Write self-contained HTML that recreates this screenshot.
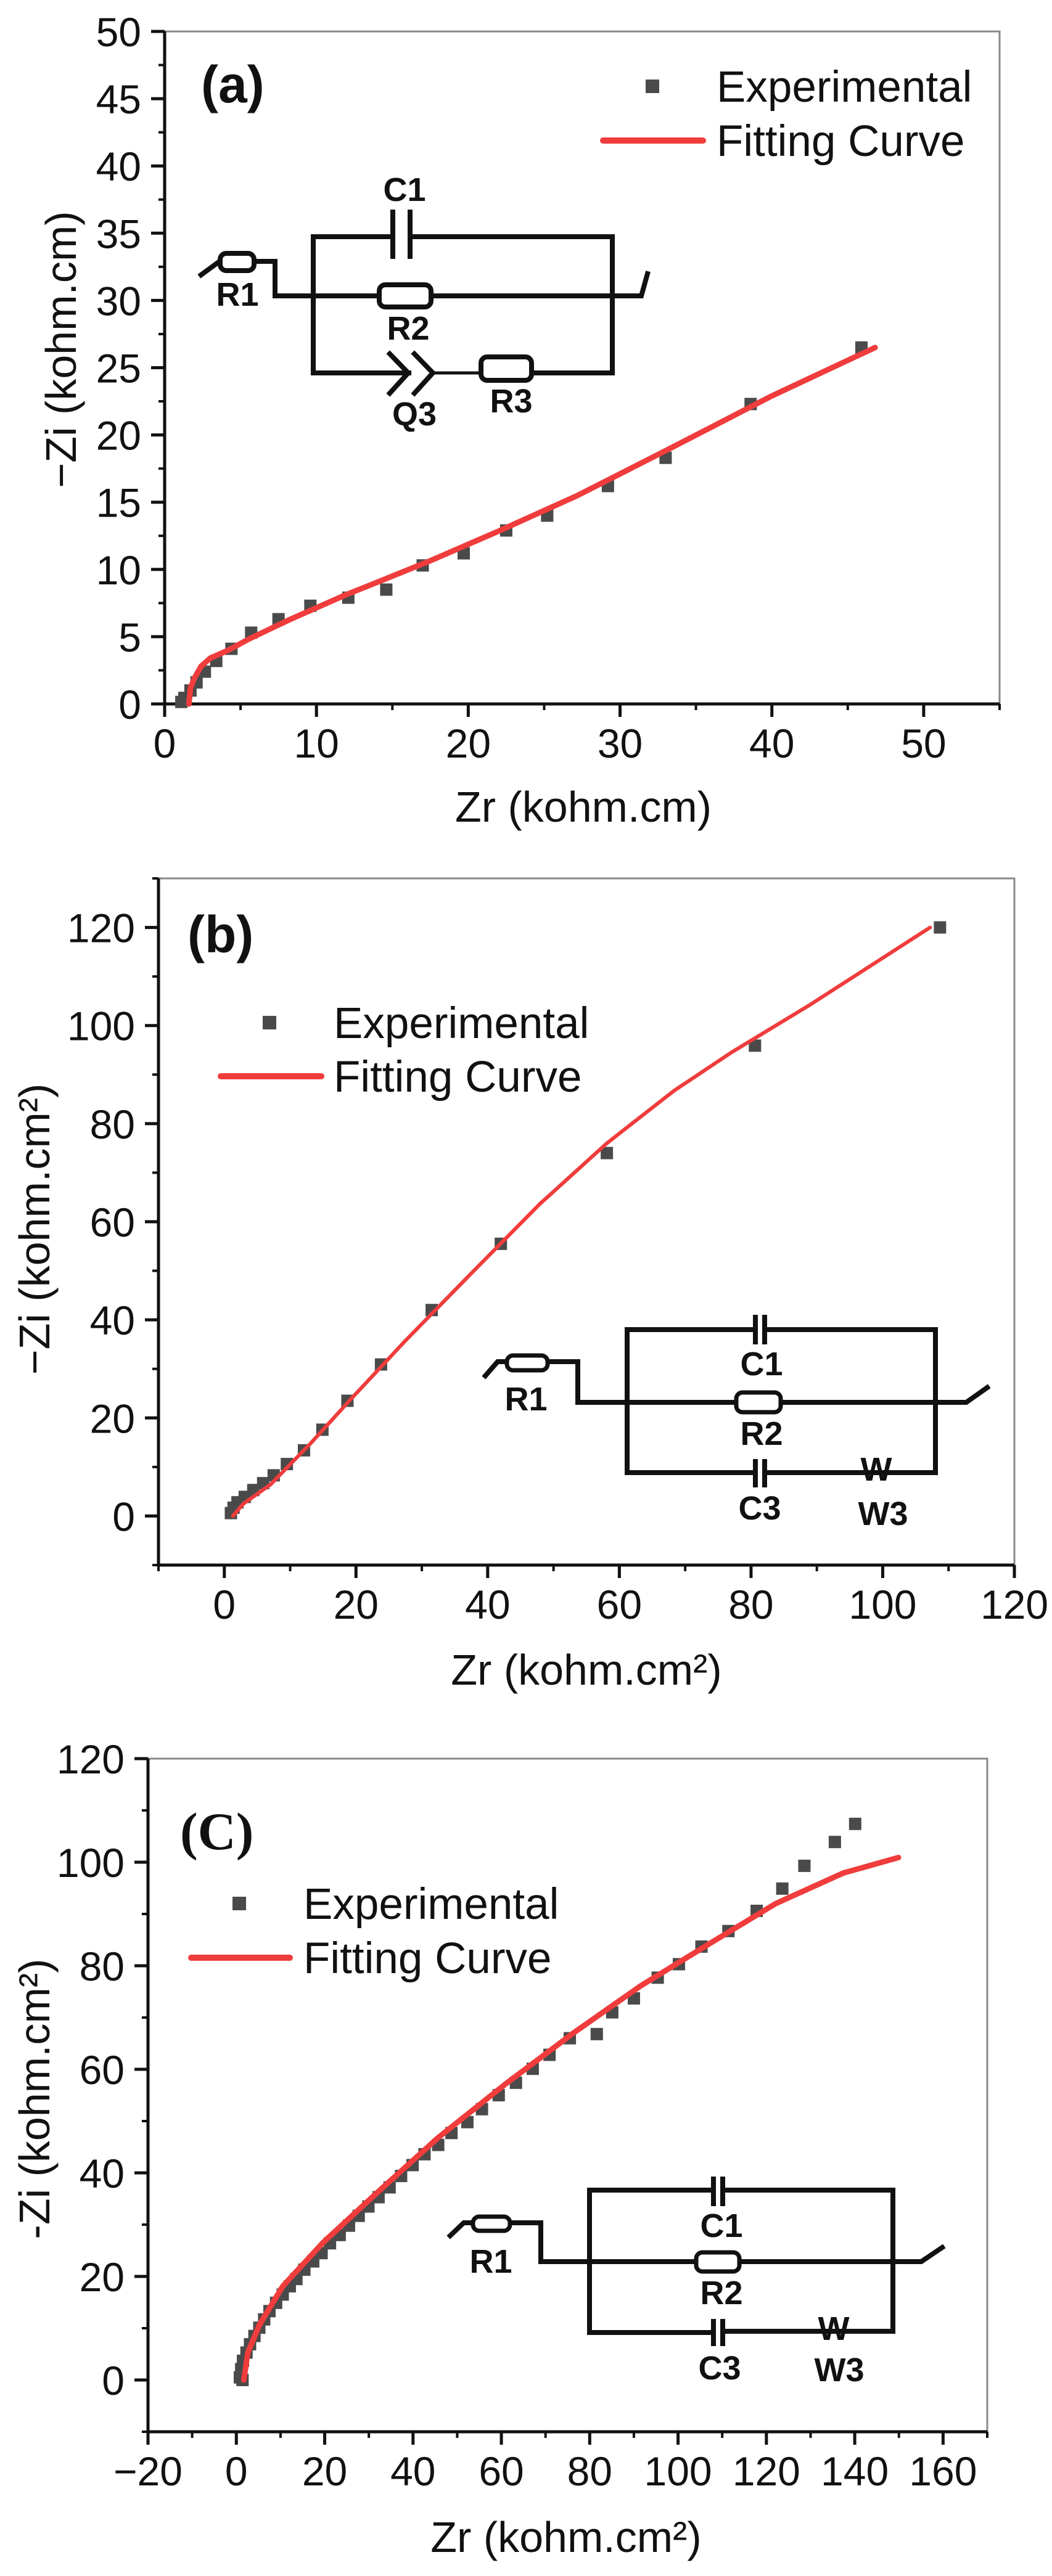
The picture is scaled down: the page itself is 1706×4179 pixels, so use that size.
<!DOCTYPE html>
<html><head><meta charset="utf-8"><style>
html,body{margin:0;padding:0;background:#fff;}
svg{display:block;font-family:"Liberation Sans",Arial,sans-serif;}
.tick{font-size:66px;fill:#111;}
.title{font-size:70px;fill:#111;}
.leg{font-size:71px;fill:#111;}
.cl{font-size:54px;font-weight:bold;fill:#111;}
.w{stroke:#111;stroke-width:8;fill:none;stroke-linecap:square;}
</style></head><body>
<svg id="fig" width="1706" height="4179" viewBox="0 0 1706 4179" xmlns="http://www.w3.org/2000/svg">
<rect width="1706" height="4179" fill="#fff"/>
<g id="pa"></g>
<g id="pb"></g>
<g id="pc"></g>

<!-- circuit a -->
<g>
<path class="w" d="M326 446 L356 424 M413 424 L446 424 L446 480 L615 480 M700 480 L1040 480 L1050 444"/>
<rect x="357" y="411" width="55" height="28" rx="10" fill="#fff" stroke="#111" stroke-width="8"/>
<rect x="615" y="462" width="84" height="36" rx="10" fill="#fff" stroke="#111" stroke-width="8"/>
<path class="w" d="M636 384 L508 384 L508 605 L663 605 M668 384 L993 384 L993 605 L862 605"/>
<path class="w" d="M637 344 V416 M665 344 V416"/>
<path class="w" d="M632 574 L662 605 L632 638 M672 574 L702 605 L672 638"/>
<path d="M702 605 L780 605" stroke="#111" stroke-width="5"/>
<rect x="780" y="579" width="82" height="38" rx="10" fill="#fff" stroke="#111" stroke-width="8"/>
<text class="cl" x="656" y="326" text-anchor="middle">C1</text>
<text class="cl" x="385" y="496" text-anchor="middle">R1</text>
<text class="cl" x="662" y="551" text-anchor="middle">R2</text>
<text class="cl" x="672" y="690" text-anchor="middle">Q3</text>
<text class="cl" x="829" y="669" text-anchor="middle">R3</text>
</g>

<!-- circuit b -->
<g>
<path class="w" d="M787 2232 L807 2209 L822 2209 M888 2209 L937 2209 L937 2275 L1194 2275 M1266 2275 L1567 2275 L1601 2251"/>
<rect x="822" y="2199" width="66" height="24" rx="10" fill="#fff" stroke="#111" stroke-width="7"/>
<rect x="1194" y="2259" width="72" height="32" rx="10" fill="#fff" stroke="#111" stroke-width="7"/>
<path class="w" d="M1224 2157 L1017 2157 L1017 2389 L1224 2389 M1241 2157 L1517 2157 L1517 2389 L1241 2389"/>
<path class="w" d="M1225 2137 V2177 M1240 2137 V2177 M1225 2371 V2409 M1240 2371 V2409"/>
<text class="cl" x="1235" y="2231" text-anchor="middle">C1</text>
<text class="cl" x="853" y="2288" text-anchor="middle">R1</text>
<text class="cl" x="1235" y="2344" text-anchor="middle">R2</text>
<text class="cl" x="1232" y="2465" text-anchor="middle">C3</text>
<text class="cl" x="1421" y="2402" text-anchor="middle">W</text>
<text class="cl" x="1432" y="2474" text-anchor="middle">W3</text>
</g>

<!-- circuit c -->
<g>
<path class="w" d="M730 3627 L752 3606 L767 3606 M827 3606 L877 3606 L877 3669 L1129 3669 M1199 3669 L1494 3669 L1528 3646"/>
<rect x="767" y="3596" width="60" height="23" rx="10" fill="#fff" stroke="#111" stroke-width="7"/>
<rect x="1129" y="3654" width="70" height="31" rx="10" fill="#fff" stroke="#111" stroke-width="7"/>
<path class="w" d="M1157 3553 L956 3553 L956 3784 L1157 3784 M1172 3553 L1448 3553 L1448 3782 L1172 3782"/>
<path class="w" d="M1157 3535 V3575 M1172 3535 V3575 M1157 3766 V3802 M1172 3766 V3802"/>
<text class="cl" x="1170" y="3629" text-anchor="middle">C1</text>
<text class="cl" x="796" y="3687" text-anchor="middle">R1</text>
<text class="cl" x="1170" y="3738" text-anchor="middle">R2</text>
<text class="cl" x="1167" y="3860" text-anchor="middle">C3</text>
<text class="cl" x="1352" y="3796" text-anchor="middle">W</text>
<text class="cl" x="1361" y="3863" text-anchor="middle">W3</text>
</g>
</svg>
<script>
// Panel (a) data
const aExpX = [45.9,38.6,33.0,29.2,25.2,22.5,19.7,17.0,14.6,12.1,9.6,7.5,5.7,4.4,3.4,2.65,2.1,1.7,1.3,1.1];
const aExpY = [26.5,22.3,18.3,16.2,14.0,12.9,11.2,10.3,8.5,7.9,7.3,6.3,5.3,4.1,3.2,2.4,1.6,1.0,0.45,0.15];
const aFitX = [1.6,1.7,2.0,2.4,3.0,4.2,5.5,6.8,8.3,9.9,11.9,13.9,17.4,21.9,27.2,33.3,40.0,46.8];
const aFitY = [0,1.2,2.0,2.8,3.4,4.0,4.8,5.5,6.3,7.1,8.1,9.0,10.6,12.8,15.5,19.0,22.9,26.5];
const aXTicks = ["0","10","20","30","40","50"];
const aYTicks = ["0","5","10","15","20","25","30","35","40","45","50"];
// Panel (b) data
const bExpX = [108.7,80.6,58.1,42.0,31.5,23.8,18.7,14.9,12.1,9.5,7.5,5.9,4.4,3.1,2.0,1.4,1.0];
const bExpY = [120,95.9,74.0,55.5,42.0,30.9,23.5,17.6,13.4,10.6,8.3,6.7,5.3,3.9,2.8,1.7,0.6];
const bFitX = [1.3,2.9,7.0,13.1,19.2,27.4,37.6,47.9,58.1,68.3,77.0,88.8,107.2];
const bFitY = [0,2.5,6.4,14.8,23.8,35.6,49.6,63.6,76.0,86.7,94.5,104.1,120];
const bXTicks = ["0","20","40","60","80","100","120"];
const bYTicks = ["0","20","40","60","80","100","120"];
// Panel (c) data
const cExpX = [140.1,135.5,128.6,123.6,117.8,111.4,105.3,100.2,95.4,90.0,85.1,81.6,75.5,70.9,67.1,63.3,59.4,55.6,52.3,48.7,45.7,42.6,39.9,37.3,34.7,32.2,29.9,27.7,25.5,23.4,21.2,19.3,17.4,15.4,13.6,12.1,10.5,9.0,7.5,6.3,5.2,4.1,3.1,2.3,1.5,1.1,0.8,1.4];
const cExpY = [107.4,103.9,99.3,94.9,90.6,86.7,83.7,80.3,77.7,73.7,71.0,66.8,66.0,62.8,60.1,57.4,55.0,52.3,49.8,47.7,45.4,43.6,41.5,39.4,37.2,35.3,33.5,31.7,29.8,28.0,26.4,24.5,22.9,21.3,19.5,18.1,16.5,14.9,13.3,11.7,10.1,8.5,6.9,5.3,3.7,2.1,0.5,0];
const cFitX = [1.7,2.6,5.2,10.5,19.7,31.9,45.7,61.0,76.3,91.5,106.8,122.1,137.4,149.9];
const cFitY = [0,5.3,10.6,18.1,26.6,36.2,46.8,57.2,67.0,76.1,84.1,92.0,97.9,100.9];
const cXTicks = ["−20","0","20","40","60","80","100","120","140","160"];
const cYTicks = ["0","20","40","60","80","100","120"];

const NS = "http://www.w3.org/2000/svg";
function mk(parent, tag, attrs, text){
  const e = document.createElementNS(NS, tag);
  for (const k in attrs) e.setAttribute(k, attrs[k]);
  if (text !== undefined) e.textContent = text;
  parent.appendChild(e);
  return e;
}
function drawPanel(g, cfg){
  const sx = v => cfg.L + (v - cfg.x0) / (cfg.x1 - cfg.x0) * (cfg.R - cfg.L);
  const sy = v => cfg.B - (v - cfg.y0) / (cfg.y1 - cfg.y0) * (cfg.B - cfg.T);
  const fr = mk(g, "path", {d:`M${cfg.L} ${cfg.T} H${cfg.R} V${cfg.B}`, stroke:"#888", "stroke-width":3, fill:"none"});
  
  
  for (let v = cfg.x0; v <= cfg.x1 + 1e-9; v += cfg.xMinor) {
    const t = mk(g, "line", {x1:sx(v), x2:sx(v), y1:cfg.B, y2:cfg.B+10, stroke:"#111", "stroke-width":4});
    
    
  }
  for (let v = cfg.y0; v <= cfg.y1 + 1e-9; v += cfg.yMinor) {
    const t = mk(g, "line", {x1:cfg.L-10, x2:cfg.L, y1:sy(v), y2:sy(v), stroke:"#111", "stroke-width":4});
    
    
  }
  cfg.xTicks.forEach(s => {
    const v = parseFloat(s.replace("−","-"));
    const t = mk(g, "line", {x1:sx(v), x2:sx(v), y1:cfg.B, y2:cfg.B+21, stroke:"#111", "stroke-width":5});
    
    
    const l = mk(g, "text", {x:sx(v), y:cfg.B+87, "text-anchor":"middle", class:"tick"}, s);
    
    
  });
  cfg.yTicks.forEach(s => {
    const v = parseFloat(s);
    const t = mk(g, "line", {x1:cfg.L-22, x2:cfg.L, y1:sy(v), y2:sy(v), stroke:"#111", "stroke-width":5});
    
    
    const l = mk(g, "text", {x:cfg.L-38, y:sy(v)+24, "text-anchor":"end", class:"tick"}, s);
    
    
  });
  const ax = mk(g, "path", {d:`M${cfg.L} ${cfg.T} V${cfg.B} H${cfg.R}`, stroke:"#111", "stroke-width":5, fill:"none"});
  
  
  cfg.ex.forEach((x, i) => {
    const r = mk(g, "rect", {x:sx(x)-10, y:sy(cfg.ey[i])-10, width:20, height:20, fill:"#4a4a4a"});
    
    
  });
  const d = cfg.fx.map((x, i) => (i ? "L" : "M") + sx(x).toFixed(1) + " " + sy(cfg.fy[i]).toFixed(1)).join(" ");
  const fl = mk(g, "path", {d:d, stroke:"#f03c3c", "stroke-width":cfg.lw, fill:"none", "stroke-linejoin":"round", "stroke-linecap":"round"});
  
  
  const xt = mk(g, "text", {x:cfg.xtx, y:cfg.xty, "text-anchor":"middle", class:"title"}, cfg.xTitle);
  
  
  const yt = mk(g, "text", {x:0, y:0, "text-anchor":"middle", class:"title", transform:`translate(${cfg.ytx},${cfg.yty}) rotate(-90)`}, cfg.yTitle);
  
  
  const pl = mk(g, "text", {x:cfg.plx, y:cfg.ply, "font-size":cfg.plFs, "font-weight":"bold", "font-family":cfg.plFont, fill:"#111"}, cfg.pl);
  
  
  const ls = mk(g, "rect", {x:cfg.lgx-11, y:cfg.lgy1-11, width:22, height:22, fill:"#4a4a4a"});
  
  
  const lt1 = mk(g, "text", {x:cfg.lgtx, y:cfg.lgy1+25, class:"leg"}, "Experimental");
  
  
  const ll = mk(g, "line", {x1:cfg.lgl0, x2:cfg.lgl1, y1:cfg.lgy2, y2:cfg.lgy2, stroke:"#f03c3c", "stroke-width":10, "stroke-linecap":"round"});
  
  
  const lt2 = mk(g, "text", {x:cfg.lgtx, y:cfg.lgy2+25, class:"leg"}, "Fitting Curve");
  
  
}
drawPanel(document.getElementById("pa"), {
  L:267,R:1621,T:51,B:1142,x0:0,x1:55,y0:0,y1:50,xMinor:5,yMinor:2.5,
  xTicks:aXTicks,yTicks:aYTicks,ex:aExpX,ey:aExpY,fx:aFitX,fy:aFitY,lw:9,
  xTitle:"Zr (kohm.cm)",xtx:946,xty:1333,yTitle:"−Zi (kohm.cm)",ytx:123,yty:567,
  pl:"(a)",plx:326,ply:166,plFs:84,plFont:"Liberation Sans",
  lgx:1058,lgy1:140,lgtx:1162,lgl0:978,lgl1:1140,lgy2:228
});
drawPanel(document.getElementById("pb"), {
  L:257,R:1645,T:1425,B:2539,x0:-10,x1:120,y0:-10,y1:130,xMinor:10,yMinor:10,
  xTicks:bXTicks,yTicks:bYTicks,ex:bExpX,ey:bExpY,fx:bFitX,fy:bFitY,lw:6,
  xTitle:"Zr (kohm.cm²)",xtx:951,xty:2733,yTitle:"−Zi (kohm.cm²)",ytx:80,yty:1994,
  pl:"(b)",plx:304,ply:1545,plFs:84,plFont:"Liberation Sans",
  lgx:437,lgy1:1659,lgtx:541,lgl0:358,lgl1:521,lgy2:1746
});
drawPanel(document.getElementById("pc"), {
  L:240,R:1601,T:2853,B:3945,x0:-20,x1:170,y0:-10,y1:120,xMinor:10,yMinor:10,
  xTicks:cXTicks,yTicks:cYTicks,ex:cExpX,ey:cExpY,fx:cFitX,fy:cFitY,lw:9,
  xTitle:"Zr (kohm.cm²)",xtx:918,xty:4140,yTitle:"-Zi (kohm.cm²)",ytx:80,yty:3405,
  pl:"(C)",plx:292,ply:3000,plFs:86,plFont:"Liberation Serif",
  lgx:388,lgy1:3088,lgtx:492,lgl0:310,lgl1:470,lgy2:3176
});
</script>
</body></html>
